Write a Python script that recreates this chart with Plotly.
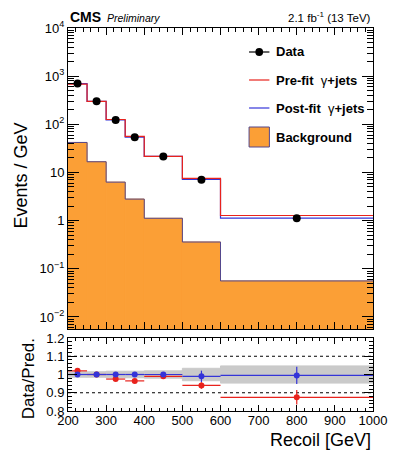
import plotly.graph_objects as go

# ---------------- data ----------------
edges = [200, 250, 300, 350, 400, 500, 600, 1000]
data = [700, 300, 123, 54, 21.5, 7.1, 1.12]
prefit = [686, 300, 126, 56, 21.7, 7.55, 1.28]
postfit = [700, 300, 123, 54, 21.5, 7.17, 1.13]
background = [42, 16.7, 6.3, 2.8, 1.12, 0.36, 0.056]

ratio_pre = [1.02, 1.0, 0.975, 0.965, 0.99, 0.94, 0.875]
ratio_pre_err = [0.008, 0.006, 0.009, 0.011, 0.013, 0.018, 0.04]
ratio_post = [1.0, 1.0, 1.0, 1.0, 1.0, 0.99, 0.995]
ratio_post_err = [0.006, 0.006, 0.009, 0.011, 0.013, 0.031, 0.047]
band_err = [0.015, 0.015, 0.018, 0.018, 0.02, 0.034, 0.047]

y_tickvals = [1e-2, 1e-1, 1, 10, 1e2, 1e3, 1e4]
y_ticktext = ["10<sup>−2</sup>", "10<sup>−1</sup>", "1", "10", "10<sup>2</sup>", "10<sup>3</sup>", "10<sup>4</sup>"]
x_tickvals = [200, 300, 400, 500, 600, 700, 800, 900, 1000]
r_tickvals = [0.8, 0.9, 1.0, 1.1, 1.2]
r_ticktext = ["0.8", "0.9", "1", "1.1", "1.2"]

# ---------------- derived geometry ----------------
centers = [(a + b) / 2 for a, b in zip(edges[:-1], edges[1:])]
widths = [b - a for a, b in zip(edges[:-1], edges[1:])]
halfw = [w / 2 for w in widths]

def step_y(vals):
    return list(vals) + [vals[-1]]

FONT = "Liberation Sans"
ORANGE = "#fb9f36"
RED = "#e8221c"
BLUE = "#3434d8"
OUTLINE = "#54478c"

W, H = 399, 450
L, R, T, B = 68, 383, 28, 411  # plot area pixels


def px(x):
    return (x - L) / (R - L)


def py(y):
    return (B - y) / (B - T)


fig = go.Figure()

# Background filled histogram
fig.add_trace(go.Bar(x=centers, y=background, width=widths, marker=dict(color=ORANGE, line=dict(width=1, color=ORANGE)),
                     xaxis="x", yaxis="y", showlegend=False, hoverinfo="skip"))
fig.add_trace(go.Scatter(x=edges, y=step_y(background), mode="lines", line=dict(color=OUTLINE, width=1, shape="hv"),
                         xaxis="x", yaxis="y", showlegend=False))
fig.add_trace(go.Scatter(x=edges, y=step_y(postfit), mode="lines", line=dict(color=BLUE, width=1.2, shape="hv"),
                         xaxis="x", yaxis="y", showlegend=False))
fig.add_trace(go.Scatter(x=edges, y=step_y(prefit), mode="lines", line=dict(color=RED, width=1.2, shape="hv"),
                         xaxis="x", yaxis="y", showlegend=False))
fig.add_trace(go.Scatter(x=centers, y=data, mode="markers", marker=dict(color="black", size=8),
                         xaxis="x", yaxis="y", showlegend=False))

# Ratio panel
fig.add_trace(go.Bar(x=centers, y=[2 * e for e in band_err], base=[1 - e for e in band_err], width=widths,
                     marker=dict(color="#cacaca", line=dict(width=1, color="#cacaca")), xaxis="x2", yaxis="y2",
                     showlegend=False, hoverinfo="skip"))
fig.add_trace(go.Scatter(x=centers, y=ratio_pre, mode="markers", marker=dict(color=RED, size=6),
                         error_x=dict(type="data", array=halfw, color=RED, thickness=1.2, width=0),
                         error_y=dict(type="data", array=ratio_pre_err, color=RED, thickness=1.2, width=0),
                         xaxis="x2", yaxis="y2", showlegend=False))
fig.add_trace(go.Scatter(x=centers, y=ratio_post, mode="markers", marker=dict(color=BLUE, size=6),
                         error_x=dict(type="data", array=halfw, color=BLUE, thickness=1.2, width=0),
                         error_y=dict(type="data", array=ratio_post_err, color=BLUE, thickness=1.2, width=0),
                         xaxis="x2", yaxis="y2", showlegend=False))

axis_common = dict(showline=True, linecolor="black", linewidth=1, mirror="ticks", ticks="inside",
                   tickcolor="black", tickwidth=1, showgrid=False, zeroline=False,
                   tickfont=dict(family=FONT, size=13, color="black"))

minor_log = [m * 10 ** e for e in range(-3, 4) for m in range(2, 10)]

top_dom = [1 - (329 - T) / (B - T), 1]
bot_dom = [0, 1 - (338 - T) / (B - T)]

fig.update_layout(
    width=W, height=H,
    margin=dict(l=L, r=W - R, t=T, b=H - B),
    paper_bgcolor="white", plot_bgcolor="white",
    barmode="overlay",
    font=dict(family=FONT, color="black"),
    xaxis=dict(axis_common, range=[200, 1000], domain=[0, 1], anchor="y", showticklabels=False,
               tickmode="array", tickvals=x_tickvals, ticklen=7,
               minor=dict(ticks="inside", ticklen=4, dtick=20, tick0=200, tickcolor="black", showgrid=False)),
    yaxis=dict(axis_common, type="log", range=[-2.25, 4], domain=top_dom, anchor="x",
               tickmode="array", tickvals=y_tickvals, ticktext=y_ticktext, ticklen=11,
               minor=dict(ticks="inside", ticklen=6, tickmode="array", tickvals=minor_log,
                          tickcolor="black", showgrid=False)),
    xaxis2=dict(axis_common, range=[200, 1000], domain=[0, 1], anchor="y2", matches="x",
                tickmode="array", tickvals=x_tickvals, ticklen=6, ticklabelstandoff=-3,
                minor=dict(ticks="inside", ticklen=3, dtick=20, tick0=200, tickcolor="black", showgrid=False)),
    yaxis2=dict(axis_common, range=[0.8, 1.2], domain=bot_dom, anchor="x2",
                tickmode="array", tickvals=r_tickvals, ticktext=r_ticktext, ticklen=9,
                minor=dict(ticks="inside", ticklen=4, dtick=0.02, tick0=0.8, tickcolor="black", showgrid=False)),
)

# dotted reference lines in ratio panel
for yv in [0.9, 1.0, 1.1]:
    fig.add_shape(type="line", xref="x2", yref="y2", x0=200, x1=1000, y0=yv, y1=yv,
                  line=dict(color="black", width=1, dash="dot"), layer="below")

# ---------------- legend (drawn manually) ----------------
leg_x0, leg_x1 = 255, 276
rows = [52, 80, 108, 137]
fig.add_shape(type="line", xref="paper", yref="paper", x0=px(leg_x0), x1=px(leg_x1), y0=py(rows[0]), y1=py(rows[0]),
              line=dict(color="black", width=1.2))
fig.add_shape(type="circle", xref="paper", yref="paper", x0=px(261.5), x1=px(269.5), y0=py(56), y1=py(48),
              fillcolor="black", line=dict(color="black", width=0))
fig.add_shape(type="line", xref="paper", yref="paper", x0=px(leg_x0), x1=px(leg_x1), y0=py(rows[1]), y1=py(rows[1]),
              line=dict(color=RED, width=1.2))
fig.add_shape(type="line", xref="paper", yref="paper", x0=px(leg_x0), x1=px(leg_x1), y0=py(rows[2]), y1=py(rows[2]),
              line=dict(color=BLUE, width=1.2))
fig.add_shape(type="rect", xref="paper", yref="paper", x0=px(leg_x0), x1=px(leg_x1), y0=py(147), y1=py(127),
              fillcolor=ORANGE, line=dict(color=OUTLINE, width=1))

leg_labels = ["<b>Data</b>", "<b>Pre-fit</b>  γ<b>+jets</b>", "<b>Post-fit</b>  γ<b>+jets</b>", "<b>Background</b>"]
for lab, yy in zip(leg_labels, rows):
    fig.add_annotation(text=lab, xref="paper", yref="paper", x=px(281), y=py(yy), xanchor="left", yanchor="middle",
                       showarrow=False, font=dict(family=FONT, size=13, color="black"))

# ---------------- header and titles ----------------
fig.add_annotation(text="<b>CMS</b>", xref="paper", yref="paper", x=px(68), y=py(17), xanchor="left",
                   yanchor="middle", showarrow=False, font=dict(family=FONT, size=14, color="black"))
fig.add_annotation(text="<i>Preliminary</i>", xref="paper", yref="paper", x=px(106), y=py(17.5), xanchor="left",
                   yanchor="middle", showarrow=False, font=dict(family=FONT, size=10.5, color="black"))
fig.add_annotation(text="2.1 fb<sup>-1</sup> (13 TeV)", xref="paper", yref="paper", x=px(383), y=py(17),
                   xanchor="right", yanchor="middle", showarrow=False,
                   font=dict(family=FONT, size=11.5, color="black"))
fig.add_annotation(text="Events / GeV", xref="paper", yref="paper", x=px(19), y=py(176), xanchor="center",
                   yanchor="middle", textangle=-90, showarrow=False, font=dict(family=FONT, size=18, color="black"))
fig.add_annotation(text="Data/Pred.", xref="paper", yref="paper", x=px(27), y=py(379), xanchor="center",
                   yanchor="middle", textangle=-90, showarrow=False, font=dict(family=FONT, size=17, color="black"))
fig.add_annotation(text="Recoil [GeV]", xref="paper", yref="paper", x=px(383), y=py(440), xanchor="right",
                   yanchor="middle", showarrow=False, font=dict(family=FONT, size=18, color="black"))

fig.write_html("out.html")
